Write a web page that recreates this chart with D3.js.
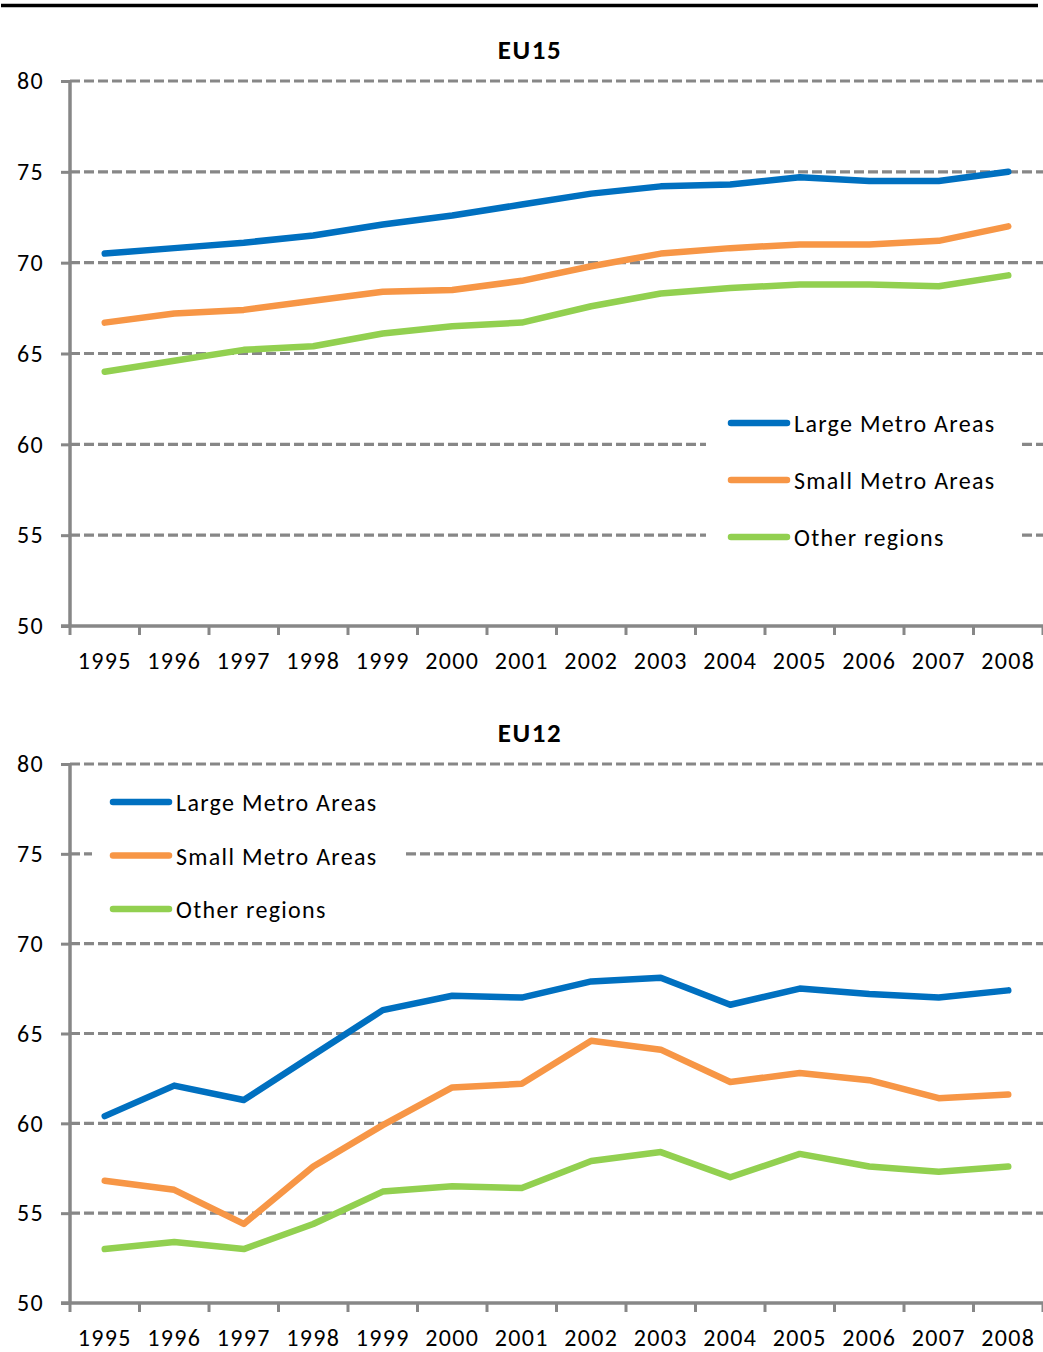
<!DOCTYPE html>
<html>
<head>
<meta charset="utf-8">
<script src="https://cdn.jsdelivr.net/npm/d3@7"></script>
<style>
  html, body { margin: 0; padding: 0; background: #fff; }
  svg { display: block; }
  text { font-family: Carlito, Lato, "Open Sans", sans-serif; fill: #000; }
</style>
</head>
<body>
<svg id="chart" width="1043" height="1352"></svg>
<script>
const years = ["1995","1996","1997","1998","1999","2000","2001","2002","2003","2004","2005","2006","2007","2008"];
const yTicks = [50, 55, 60, 65, 70, 75, 80];
const seriesNames = ["Large Metro Areas", "Small Metro Areas", "Other regions"];
const seriesColors = ["#0070C0", "#F79646", "#92D050"];

const eu15Large = [70.5, 70.8, 71.1, 71.5, 72.1, 72.6, 73.2, 73.8, 74.2, 74.3, 74.7, 74.5, 74.5, 75.0];
const eu15Small = [66.7, 67.2, 67.4, 67.9, 68.4, 68.5, 69.0, 69.8, 70.5, 70.8, 71.0, 71.0, 71.2, 72.0];
const eu15Other = [64.0, 64.6, 65.2, 65.4, 66.1, 66.5, 66.7, 67.6, 68.3, 68.6, 68.8, 68.8, 68.7, 69.3];

const eu12Large = [60.4, 62.1, 61.3, 63.8, 66.3, 67.1, 67.0, 67.9, 68.1, 66.6, 67.5, 67.2, 67.0, 67.4];
const eu12Small = [56.8, 56.3, 54.4, 57.6, 59.9, 62.0, 62.2, 64.6, 64.1, 62.3, 62.8, 62.4, 61.4, 61.6];
const eu12Other = [53.0, 53.4, 53.0, 54.4, 56.2, 56.5, 56.4, 57.9, 58.4, 57.0, 58.3, 57.6, 57.3, 57.6];

const svg = d3.select("#chart");
const W = 1043;
const FS = 24, LS = 1.3;

// top rule
svg.append("line").attr("x1", 1).attr("x2", 1038).attr("y1", 5.5).attr("y2", 5.5)
  .attr("stroke", "#000").attr("stroke-width", 3.5);

const gridColor = "#878787";

function drawChart(opts) {
  const g = svg.append("g");
  const x = d3.scaleBand().domain(years).range([70, 1043]);
  const y = d3.scaleLinear().domain([50, 80]).range([opts.bottom, opts.top]);

  // title
  g.append("text").attr("x", opts.titleX).attr("y", opts.top - 22)
    .attr("text-anchor", "middle").attr("font-weight", "bold").attr("font-size", 27)
    .attr("letter-spacing", 1.6)
    .text(opts.title);

  // gridlines
  g.append("g").selectAll("line").data(yTicks.filter(t => t !== 50)).join("line")
    .attr("x1", 70).attr("x2", W).attr("y1", d => y(d)).attr("y2", d => y(d))
    .attr("stroke", gridColor).attr("stroke-width", 3.2).attr("stroke-dasharray", "10,4");

  // legend background box
  g.append("rect").attr("x", opts.legend.boxX).attr("y", opts.legend.boxY)
    .attr("width", opts.legend.boxW).attr("height", opts.legend.boxH).attr("fill", "#fff");

  // y axis
  const yAxis = d3.axisLeft(y).tickValues(yTicks).tickSize(9).tickPadding(17).tickFormat(d3.format("d"));
  const ya = g.append("g").attr("transform", "translate(70,0)").call(yAxis);
  ya.select(".domain").attr("stroke", gridColor).attr("stroke-width", 3.5).attr("d", `M0,${opts.top}V${opts.bottom}`);
  ya.selectAll(".tick line").attr("stroke", gridColor).attr("stroke-width", 3);
  ya.selectAll(".tick text").attr("font-size", FS).attr("letter-spacing", LS)
    .attr("font-family", "Carlito, Lato, sans-serif").attr("fill", "#000");

  // x axis
  const xa = g.append("g").attr("transform", `translate(0,${opts.bottom})`);
  xa.append("line").attr("x1", 61).attr("x2", W).attr("y1", 0).attr("y2", 0)
    .attr("stroke", gridColor).attr("stroke-width", 3.5);
  const bounds = years.map(d => x(d)).concat([x(years[years.length - 1]) + x.bandwidth()]);
  xa.selectAll("line.tk").data(bounds).join("line").attr("class", "tk")
    .attr("x1", d => d).attr("x2", d => d).attr("y1", 0).attr("y2", 9)
    .attr("stroke", gridColor).attr("stroke-width", 3);
  xa.selectAll("text").data(years).join("text")
    .attr("x", d => x(d) + x.bandwidth() / 2).attr("y", 43)
    .attr("text-anchor", "middle").attr("font-size", FS).attr("letter-spacing", LS).text(d => d);

  // lines
  const line = d3.line().x((d, i) => x(years[i]) + x.bandwidth() / 2).y(d => y(d));
  g.append("g").selectAll("path").data(opts.series).join("path")
    .attr("d", d => line(d)).attr("fill", "none")
    .attr("stroke", (d, i) => seriesColors[i]).attr("stroke-width", 6.5)
    .attr("stroke-linecap", "round").attr("stroke-linejoin", "round");

  // legend
  const lg = g.append("g");
  seriesNames.forEach((name, i) => {
    const ly = opts.legend.y0 + i * opts.legend.dy;
    lg.append("line").attr("x1", opts.legend.x).attr("x2", opts.legend.x + 56)
      .attr("y1", ly).attr("y2", ly).attr("stroke", seriesColors[i])
      .attr("stroke-width", 6.5).attr("stroke-linecap", "round");
    lg.append("text").attr("x", opts.legend.x + 63).attr("y", ly + 9)
      .attr("font-size", FS).attr("letter-spacing", LS).text(name);
  });
}

drawChart({
  title: "EU15", titleX: 530, top: 81, bottom: 626,
  series: [eu15Large, eu15Small, eu15Other],
  legend: { x: 731, y0: 423, dy: 57, boxX: 706, boxY: 400, boxW: 316, boxH: 160 }
});

drawChart({
  title: "EU12", titleX: 530, top: 764, bottom: 1303,
  series: [eu12Large, eu12Small, eu12Other],
  legend: { x: 113, y0: 802, dy: 53.5, boxX: 92, boxY: 780, boxW: 312, boxH: 150 }
});
</script>
</body>
</html>
